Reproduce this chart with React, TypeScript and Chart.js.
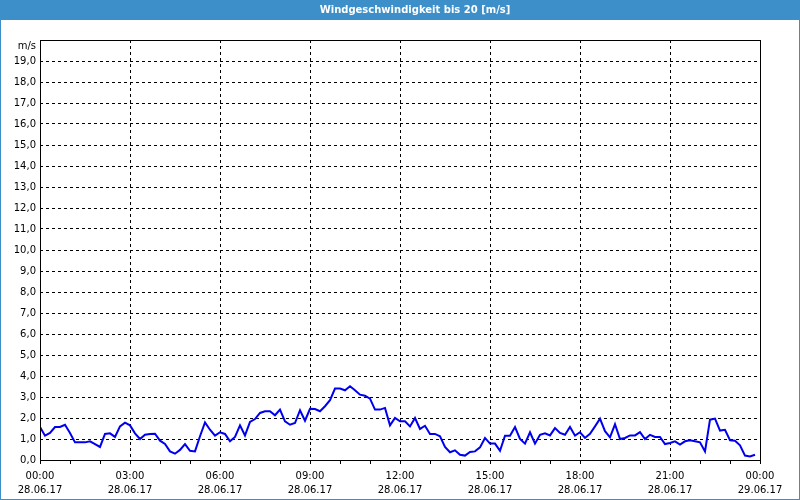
import React, { useEffect, useRef } from 'react';
import { Chart, registerables } from 'chart.js';

Chart.register(...registerables);

const TITLE = 'Windgeschwindigkeit bis 20 [m/s]';
const UNIT = 'm/s';
const BLUE_FRAME = '#3C8FC8';
const LINE_COLOR = '#0000F0';
const FONT_FAMILY = '"DejaVu Sans", Verdana, sans-serif';

// one reading every 10 minutes, starting 28.06.17 00:00
const SAMPLE_INTERVAL_H = 10 / 60;

const windSpeed: number[] = [
  1.57, 1.16, 1.29, 1.57, 1.57, 1.68, 1.29, 0.84, 0.84, 0.84, 0.89, 0.76, 0.62, 1.24, 1.27,
  1.10, 1.60, 1.78, 1.65, 1.27, 1.00, 1.20, 1.24, 1.25, 0.92, 0.76, 0.41, 0.30, 0.48, 0.76,
  0.44, 0.41, 1.13, 1.79, 1.44, 1.16, 1.32, 1.24, 0.89, 1.10, 1.65, 1.17, 1.81, 1.95,
  2.24, 2.32, 2.32, 2.13, 2.40, 1.84, 1.68, 1.76, 2.37, 1.87, 2.44, 2.43, 2.32, 2.56,
  2.85, 3.40, 3.40, 3.32, 3.51, 3.32, 3.11, 3.06, 2.92, 2.40, 2.40, 2.48, 1.65, 2.00, 1.84,
  1.84, 1.60, 2.00, 1.48, 1.63, 1.24, 1.24, 1.13, 0.62, 0.37, 0.46, 0.25, 0.21, 0.38, 0.41,
  0.60, 1.05, 0.78, 0.78, 0.44, 1.16, 1.16, 1.57, 1.00, 0.78, 1.32, 0.78, 1.20, 1.27,
  1.17, 1.52, 1.29, 1.20, 1.57, 1.16, 1.32, 1.05, 1.25, 1.60, 1.97, 1.37, 1.08, 1.70,
  1.00, 1.05, 1.17, 1.17, 1.33, 1.00, 1.20, 1.10, 1.10, 0.76, 0.81, 0.89, 0.73, 0.89,
  0.94, 0.89, 0.84, 0.41, 1.92, 1.97, 1.40, 1.44, 0.94, 0.92, 0.70, 0.21, 0.17, 0.25,
];

const xMajorHours = [0, 3, 6, 9, 12, 15, 18, 21, 24];
const xTimeLabels = ['00:00', '03:00', '06:00', '09:00', '12:00', '15:00', '18:00', '21:00', '00:00'];
const xDateLabels = [
  '28.06.17', '28.06.17', '28.06.17', '28.06.17', '28.06.17',
  '28.06.17', '28.06.17', '28.06.17', '29.06.17',
];
const yTickLabels = [
  '0,0', '1,0', '2,0', '3,0', '4,0', '5,0', '6,0', '7,0', '8,0', '9,0',
  '10,0', '11,0', '12,0', '13,0', '14,0', '15,0', '16,0', '17,0', '18,0', '19,0',
];
const Y_MAX = 20;
const X_MAX = 24;

export default function App() {
  const canvasRef = useRef<HTMLCanvasElement>(null);

  useEffect(() => {
    document.body.style.margin = '0';
    const canvas = canvasRef.current;
    if (!canvas) return;

    const framePlugin = {
      id: 'frame',
      beforeDraw(chart: any) {
        const { ctx, width, height } = chart;
        ctx.save();
        ctx.fillStyle = '#ffffff';
        ctx.fillRect(0, 0, width, height);
        ctx.fillStyle = BLUE_FRAME;
        ctx.fillRect(0, 0, width, 20);
        ctx.strokeStyle = BLUE_FRAME;
        ctx.lineWidth = 1;
        ctx.strokeRect(0.5, 0.5, width - 1, height - 1);
        ctx.fillStyle = '#ffffff';
        ctx.font = `bold 10px ${FONT_FAMILY}`;
        ctx.textAlign = 'center';
        ctx.textBaseline = 'middle';
        ctx.fillText(TITLE, 415, 10.5);
        ctx.restore();
      },
      afterDraw(chart: any) {
        const { ctx, chartArea } = chart;
        const l = Math.round(chartArea.left) + 0.5;
        const t = Math.round(chartArea.top) + 0.5;
        const r = Math.round(chartArea.right) + 0.5;
        const b = Math.round(chartArea.bottom) + 0.5;
        ctx.save();
        ctx.strokeStyle = '#000000';
        ctx.lineWidth = 1;
        ctx.setLineDash([]);
        ctx.strokeRect(l, t, r - l, b - t);
        const yTop = chart.scales.y.getPixelForValue(Y_MAX);
        ctx.fillStyle = '#000000';
        ctx.font = `10px ${FONT_FAMILY}`;
        ctx.textAlign = 'right';
        ctx.textBaseline = 'middle';
        ctx.fillText(UNIT, chartArea.left - 4, yTop + 6);
        ctx.restore();
      },
    };

    const points = windSpeed.map((v, i) => ({ x: i * SAMPLE_INTERVAL_H, y: v }));

    const chart = new Chart(canvas, {
      type: 'line',
      data: {
        datasets: [
          {
            data: points,
            borderColor: LINE_COLOR,
            borderWidth: 2,
            pointRadius: 0,
            tension: 0,
            fill: false,
          },
        ],
      },
      options: {
        responsive: false,
        animation: false,
        devicePixelRatio: 1,
        layout: { padding: { top: 40, right: 40, left: 0, bottom: 0 } },
        plugins: {
          legend: { display: false },
          tooltip: { enabled: false },
          title: { display: false },
        },
        scales: {
          x: {
            type: 'linear',
            min: 0,
            max: X_MAX,
            afterFit: (s: any) => {
              s.height = 40;
            },
            ticks: {
              stepSize: 1,
              autoSkip: false,
              maxRotation: 0,
              minRotation: 0,
              padding: 5,
              color: '#000000',
              font: { family: FONT_FAMILY, size: 10, lineHeight: 1.45 },
              callback: (value: any) => {
                const idx = xMajorHours.indexOf(Number(value));
                return idx >= 0 ? [xTimeLabels[idx], xDateLabels[idx]] : '';
              },
            },
            grid: {
              color: (ctx: any) => {
                const v = ctx.tick ? ctx.tick.value : -1;
                return v % 3 === 0 && v > 0 && v < X_MAX ? '#000000' : 'rgba(0,0,0,0)';
              },
              tickColor: '#000000',
              tickLength: 4,
              lineWidth: 1,
              drawTicks: true,
            },
            border: { display: false, dash: [3, 3] },
          },
          y: {
            type: 'linear',
            min: 0,
            max: Y_MAX,
            afterFit: (s: any) => {
              s.width = 40;
            },
            ticks: {
              stepSize: 1,
              autoSkip: false,
              padding: 4,
              color: '#000000',
              font: { family: FONT_FAMILY, size: 10 },
              callback: (value: any) => {
                const label = yTickLabels[Number(value)];
                return label !== undefined ? label : '';
              },
            },
            grid: {
              color: (ctx: any) => {
                const v = ctx.tick ? ctx.tick.value : -1;
                return v > 0 && v < Y_MAX ? '#000000' : 'rgba(0,0,0,0)';
              },
              lineWidth: 1,
              drawTicks: false,
            },
            border: { display: false, dash: [3, 3] },
          },
        },
      },
      plugins: [framePlugin],
    });

    return () => {
      chart.destroy();
    };
  }, []);

  return (
    <div style={{ width: 800, height: 500, position: 'relative' }}>
      <canvas ref={canvasRef} width={800} height={500} style={{ display: 'block' }} />
    </div>
  );
}
